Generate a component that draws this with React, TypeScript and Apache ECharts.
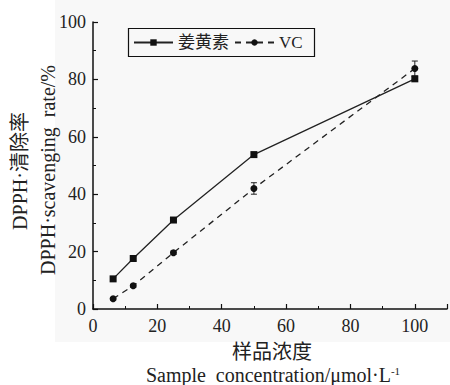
import React, { useEffect, useRef } from "react";
import * as echarts from "echarts";

const concentrations = [6.25, 12.5, 25, 50, 100];
const curcumin = [10.5, 17.6, 31, 53.8, 80.2];
const curcuminErr = [0.5, 0.8, 0.5, 0.6, 0.8];
const vc = [3.6, 8.1, 19.6, 42, 83.8];
const vcErr = [0.4, 0.5, 0.6, 2.0, 2.6];
const seriesNames = ["姜黄素", "VC"];
const yTitle1 = "DPPH·清除率";
const yTitle2 = "DPPH·scavenging  rate/%";
const xTitle1 = "样品浓度";

const FONT = "Times New Roman, Liberation Serif, serif, Noto Sans CJK SC";

function errorSeries(vals: number[], errs: number[]) {
  return {
    type: "custom",
    silent: true,
    z: 1,
    data: concentrations.map((x, i) => [x, vals[i] - errs[i], vals[i] + errs[i]]),
    renderItem: (params: any, api: any) => {
      const lo = api.coord([api.value(0), api.value(1)]);
      const hi = api.coord([api.value(0), api.value(2)]);
      const w = 3;
      const style = { stroke: "#222", lineWidth: 1 };
      return {
        type: "group",
        children: [
          { type: "line", shape: { x1: lo[0], y1: lo[1], x2: hi[0], y2: hi[1] }, style },
          { type: "line", shape: { x1: lo[0] - w, y1: lo[1], x2: lo[0] + w, y2: lo[1] }, style },
          { type: "line", shape: { x1: hi[0] - w, y1: hi[1], x2: hi[0] + w, y2: hi[1] }, style },
        ],
      };
    },
  };
}

export default function App() {
  const ref = useRef<HTMLDivElement>(null);
  useEffect(() => {
    if (!ref.current) return;
    const chart = echarts.init(ref.current, null, { renderer: "svg" });
    const labelStyle = { color: "#222", fontSize: 18, fontFamily: FONT };
    const axisCommon = {
      axisLine: { show: true, lineStyle: { color: "#111", width: 1.5 } },
      axisTick: { show: true, inside: true, length: 5, lineStyle: { color: "#111", width: 1.2 } },
      minorTick: { show: true, splitNumber: 2, length: 3, lineStyle: { color: "#111", width: 1 } },
      splitLine: { show: false },
    };
    chart.setOption({
      animation: false,
      backgroundColor: "#fff",
      textStyle: { fontFamily: FONT },
      grid: { left: 93, right: -8, top: 22, bottom: 76, containLabel: false },
      xAxis: {
        type: "value",
        min: 0,
        max: 110,
        interval: 20,
        ...axisCommon,
        axisLabel: {
          ...labelStyle,
          margin: 8,
          formatter: (v: number) => (v % 20 === 0 && v <= 100 ? String(v) : ""),
        },
      },
      yAxis: {
        type: "value",
        min: 0,
        max: 100,
        interval: 20,
        ...axisCommon,
        axisLabel: { ...labelStyle, margin: 7 },
      },
      legend: {
        left: 128,
        top: 28,
        padding: [6, 5, 6, 5],
        borderWidth: 0,
        itemWidth: 39,
        itemHeight: 8,
        itemGap: 5,
        textStyle: { fontSize: 17, color: "#222", fontFamily: FONT },
        data: seriesNames,
      },
      series: [
        {
          name: seriesNames[0],
          type: "line",
          data: concentrations.map((x, i) => [x, curcumin[i]]),
          symbol: "rect",
          symbolSize: 7,
          itemStyle: { color: "#111" },
          lineStyle: { color: "#222", width: 1.3, type: "solid" },
          z: 3,
        },
        {
          name: seriesNames[1],
          type: "line",
          data: concentrations.map((x, i) => [x, vc[i]]),
          symbol: "circle",
          symbolSize: 7,
          itemStyle: { color: "#111" },
          lineStyle: { color: "#222", width: 1.3, type: [6, 5] },
          z: 3,
        },
        errorSeries(curcumin, curcuminErr),
        errorSeries(vc, vcErr),
      ],
      graphic: [
        {
          type: "rect",
          z: -10,
          silent: true,
          shape: { x: 55, y: 0, width: 395, height: 342 },
          style: { fill: "#f8f8f8" },
        },
        {
          type: "rect",
          z: 5,
          silent: true,
          shape: { x: 128.5, y: 28.5, width: 186, height: 28 },
          style: { fill: "none", stroke: "#111", lineWidth: 1.2 },
        },
        {
          type: "text",
          x: 20,
          y: 171,
          rotation: Math.PI / 2,
          style: {
            text: yTitle1,
            fontSize: 20,
            fontFamily: FONT,
            fill: "#222",
            align: "center",
            verticalAlign: "middle",
          },
        },
        {
          type: "text",
          x: 48,
          y: 170,
          rotation: Math.PI / 2,
          style: {
            text: yTitle2,
            fontSize: 20,
            fontFamily: FONT,
            fill: "#222",
            align: "center",
            verticalAlign: "middle",
          },
        },
        {
          type: "text",
          x: 272,
          y: 352,
          style: {
            text: xTitle1,
            fontSize: 20,
            fontFamily: FONT,
            fill: "#222",
            align: "center",
            verticalAlign: "middle",
          },
        },
        {
          type: "text",
          x: 273,
          y: 375,
          style: {
            text: "Sample  concentration/μmol·L{sup|-1}",
            fontSize: 20,
            fontFamily: FONT,
            fill: "#222",
            align: "center",
            verticalAlign: "middle",
            rich: {
              sup: { fontSize: 11, fontFamily: FONT, fill: "#222", verticalAlign: "top", padding: [0, 0, 9, 0] },
            },
          },
        },
      ],
    });
    return () => chart.dispose();
  }, []);
  return <div ref={ref} style={{ width: 450, height: 385, position: "absolute", left: 0, top: 0 }} />;
}
